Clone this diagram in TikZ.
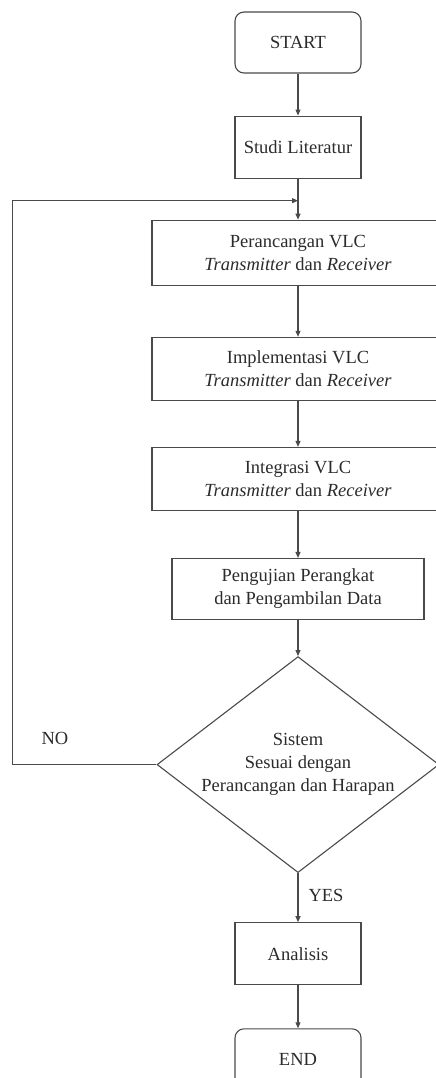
\documentclass[tikz,border=0pt]{standalone}
\usepackage{fontspec}
\setmainfont{Liberation Serif}
\usetikzlibrary{arrows.meta,positioning,shapes.geometric}
\definecolor{ink}{HTML}{4A4A4A}
\definecolor{txt}{HTML}{2B2B2B}
\tikzset{
  box/.style={draw=ink, line width=1.1pt, align=center, minimum height=62pt, minimum width=126pt, text=txt, font=\fontsize{18.5}{23}\selectfont},
  widebox/.style={box, minimum width=292pt, minimum height=63pt},
  termbox/.style={box, rounded corners=9pt},
  decision/.style={draw=ink, line width=1.1pt, diamond, aspect=1.3, align=center, inner sep=-3pt, minimum width=282pt, minimum height=216pt, text=txt, font=\fontsize{18.5}{23}\selectfont},
  lbl/.style={text=txt, font=\fontsize{18.5}{23}\selectfont},
  arrow/.style={-{Triangle[length=6pt,width=5pt]}, line width=1.1pt, draw=ink}
}

\begin{document}
\begin{tikzpicture}[x=1pt, y=1pt]
  \clip (0,0) rectangle (436,-1078);
  \node[termbox, minimum height=61pt] (start) at (298,-42.5) {START};
  \node[box, below=42pt of start] (studi) {Studi Literatur};
  \node[widebox, minimum height=65pt, below=41pt of studi] (perancangan) {Perancangan VLC\\\textit{Transmitter} dan \textit{Receiver}};
  \node[widebox, below=51pt of perancangan] (implementasi) {Implementasi VLC\\\textit{Transmitter} dan \textit{Receiver}};
  \node[widebox, below=46pt of implementasi] (integrasi) {Integrasi VLC\\\textit{Transmitter} dan \textit{Receiver}};
  \node[box, minimum width=252pt, minimum height=61pt, below=47pt of integrasi] (pengujian) {Pengujian Perangkat\\dan Pengambilan Data};
  \node[decision, below=36pt of pengujian] (sesuai) {Sistem\\Sesuai dengan\\Perancangan dan Harapan};
  \node[box, below=49pt of sesuai] (analisis) {Analisis};
  \node[termbox, below=43pt of analisis] (end) {END};

  \coordinate[below=22pt of studi.south] (loopin);
  \node[lbl] (no) at (55,-738) {NO};
  \node[lbl] (yes) at (326,-895) {YES};

  \draw[arrow] (start) -- (studi);
  \draw[arrow] (studi) -- (perancangan);
  \draw[arrow] (perancangan) -- (implementasi);
  \draw[arrow] (implementasi) -- (integrasi);
  \draw[arrow] (integrasi) -- (pengujian);
  \draw[arrow] (pengujian) -- (sesuai);
  \draw[arrow] (sesuai) -- (analisis);
  \draw[arrow] (analisis) -- (end);
  \draw[arrow] (sesuai.west) -- ++(-144,0) |- (loopin);
\end{tikzpicture}
\end{document}
